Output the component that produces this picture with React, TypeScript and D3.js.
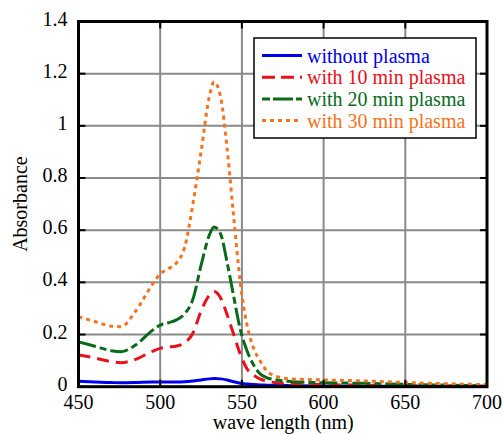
import React, { useEffect, useRef } from 'react';
import * as d3 from 'd3';

// wavelengths (nm) shared by all series
const wavelengths = [450, 460, 470, 476, 485, 495, 500, 505, 510, 515, 520, 525, 530, 533, 537, 541, 545, 549, 553, 557, 561, 565, 570, 580, 600, 625, 650, 675, 700];

const withoutPlasma = [0.021, 0.018, 0.016, 0.015, 0.016, 0.018, 0.018, 0.018, 0.018, 0.019, 0.022, 0.026, 0.030, 0.031, 0.030, 0.026, 0.019, 0.013, 0.010, 0.008, 0.007, 0.006, 0.005, 0.004, 0.003, 0.002, 0.002, 0.001, 0.001];
const plasma10 = [0.122, 0.110, 0.096, 0.092, 0.105, 0.135, 0.147, 0.152, 0.156, 0.168, 0.205, 0.290, 0.350, 0.365, 0.340, 0.275, 0.200, 0.125, 0.070, 0.045, 0.030, 0.022, 0.016, 0.012, 0.008, 0.006, 0.005, 0.004, 0.003];
const plasma20 = [0.172, 0.155, 0.138, 0.134, 0.160, 0.215, 0.236, 0.245, 0.256, 0.280, 0.335, 0.465, 0.580, 0.612, 0.585, 0.475, 0.345, 0.220, 0.140, 0.085, 0.050, 0.035, 0.027, 0.020, 0.015, 0.013, 0.009, 0.006, 0.004];
const plasma30 = [0.268, 0.250, 0.232, 0.230, 0.290, 0.390, 0.432, 0.452, 0.475, 0.535, 0.700, 0.900, 1.110, 1.168, 1.110, 0.910, 0.650, 0.400, 0.240, 0.150, 0.100, 0.062, 0.042, 0.030, 0.026, 0.022, 0.016, 0.011, 0.008];

const seriesNames = ['without plasma', 'with 10 min plasma', 'with 20 min plasma', 'with 30 min plasma'];
const seriesColors = ['#0000ee', '#e8101a', '#0a6a1a', '#f47320'];
const seriesDashes = ['none', '12,7', '18,4,7,4', '4,4'];

const xTicks = [450, 500, 550, 600, 650, 700];
const yTicks = [0, 0.2, 0.4, 0.6, 0.8, 1, 1.2, 1.4];

/* SpectrumChart: draws the absorbance curves with d3 through a ref */
function SpectrumChart({ width, height }: { width: number; height: number }) {
  const ref = useRef<SVGSVGElement>(null);
  const margin = { top: 21.5, right: 16, bottom: 47.3, left: 78.5 };

  useEffect(() => {
    const svg = d3.select(ref.current);
    svg.selectAll('*').remove();

    const x = d3.scaleLinear().domain([450, 700]).range([margin.left, width - margin.right]);
    const y = d3.scaleLinear().domain([0, 1.4]).range([height - margin.bottom, margin.top]);
    const [x0, x1] = x.range();
    const [y0, y1] = y.range();

    svg.append('rect').attr('width', width).attr('height', height).attr('fill', '#fff');

    // grid
    const grid = svg.append('g').attr('stroke', '#8a8a8a').attr('stroke-width', 2);
    xTicks.slice(1, -1).forEach(t => {
      grid.append('line').attr('x1', x(t)).attr('x2', x(t)).attr('y1', y0).attr('y2', y1);
    });
    yTicks.slice(1, -1).forEach(t => {
      grid.append('line').attr('x1', x0).attr('x2', x1).attr('y1', y(t)).attr('y2', y(t));
    });

    // curves
    const datasets = [withoutPlasma, plasma10, plasma20, plasma30];
    const line = d3.line<number>()
      .x((d, i) => x(wavelengths[i]))
      .y(d => y(d))
      .curve(d3.curveMonotoneX);
    datasets.forEach((vals, i) => {
      svg.append('path')
        .attr('d', line(vals))
        .attr('fill', 'none')
        .attr('stroke', seriesColors[i])
        .attr('stroke-width', 3)
        .attr('stroke-dasharray', seriesDashes[i]);
    });

    // inward ticks on all sides
    const ticks = svg.append('g').attr('stroke', '#000').attr('stroke-width', 2);
    xTicks.forEach(t => {
      ticks.append('line').attr('x1', x(t)).attr('x2', x(t)).attr('y1', y0).attr('y2', y0 - 7);
      ticks.append('line').attr('x1', x(t)).attr('x2', x(t)).attr('y1', y1).attr('y2', y1 + 7);
    });
    yTicks.forEach(t => {
      ticks.append('line').attr('x1', x0).attr('x2', x0 + 7).attr('y1', y(t)).attr('y2', y(t));
      ticks.append('line').attr('x1', x1).attr('x2', x1 - 7).attr('y1', y(t)).attr('y2', y(t));
    });

    // frame
    svg.append('rect')
      .attr('x', x0).attr('y', y1)
      .attr('width', x1 - x0).attr('height', y0 - y1)
      .attr('fill', 'none').attr('stroke', '#000').attr('stroke-width', 3);

    // tick labels
    svg.append('g').selectAll('text').data(xTicks).enter().append('text')
      .attr('x', d => x(d)).attr('y', y0 + 22)
      .attr('text-anchor', 'middle')
      .text(d => d);
    svg.append('g').selectAll('text').data(yTicks).enter().append('text')
      .attr('x', x0 - 11).attr('y', d => y(d) + 4)
      .attr('text-anchor', 'end')
      .text(d => d3.format('~g')(d));

    // axis titles
    svg.append('text')
      .attr('x', (x0 + x1) / 2 + 0.5).attr('y', height - 5)
      .attr('text-anchor', 'middle')
      .text('wave length (nm)');
    svg.append('text')
      .attr('transform', `translate(27,${(y0 + y1) / 2}) rotate(-90)`)
      .attr('text-anchor', 'middle')
      .text('Absorbance');

    // legend
    const legend = svg.append('g');
    legend.append('rect')
      .attr('x', 254).attr('y', 38).attr('width', 222).attr('height', 100)
      .attr('fill', '#fff').attr('stroke', '#000').attr('stroke-width', 1.5);
    seriesNames.forEach((name, i) => {
      const ly = 55.5 + i * 21.7;
      legend.append('line')
        .attr('x1', 262).attr('x2', 302).attr('y1', ly).attr('y2', ly)
        .attr('stroke', seriesColors[i]).attr('stroke-width', 3)
        .attr('stroke-dasharray', i === 1 ? '13,6' : i === 2 ? '8,3,20,3' : seriesDashes[i]);
      legend.append('text')
        .attr('x', 307).attr('y', ly + 7)
        .attr('fill', seriesColors[i])
        .text(name);
    });
  }, [width, height]);

  return (
    <svg
      ref={ref}
      width={width}
      height={height}
      style={{ position: 'absolute', left: 0, top: 0, fontFamily: 'Liberation Serif', fontSize: 20 }}
    />
  );
}

export default function App() {
  return <SpectrumChart width={503} height={434} />;
}
